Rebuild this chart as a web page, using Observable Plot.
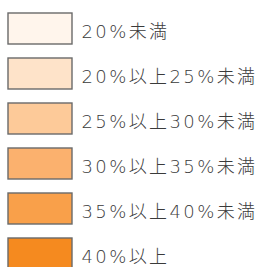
<!DOCTYPE html>
<html><head><meta charset="utf-8">
<script src="https://cdn.jsdelivr.net/npm/d3@7"></script>
<script src="https://cdn.jsdelivr.net/npm/@observablehq/plot@0.6"></script>
<style>body{margin:0;background:#fff}</style>
</head><body><div id="chart"></div>
<script>
const labels = ["20%未満","20%以上25%未満","25%以上30%未満","30%以上35%未満","35%以上40%未満","40%以上"];
const colors = ["#fff5ec","#fee3c9","#fdca99","#fbb16e","#f9a04a","#f58a1f"];
const data = labels.map((label,i)=>({label, color: colors[i], key:"swatch"}));
const chart = Plot.plot({
  width: 263, height: 267,
  margin: 0,
  style: {background: "#fff"},
  x: {type: "band", domain: ["swatch"], range: [8, 72.5], padding: 0, axis: null},
  y: {type: "band", domain: labels, range: [12, 270], paddingInner: 0.317, paddingOuter: 0, axis: null},
  marks: [
    Plot.cell(data, {x: "key", y: "label", fill: "color", stroke: "#6a6a6a", strokeWidth: 1.4}),
    Plot.text(data, {x: "key", y: "label", text: "label", textAnchor: "start", dx: 41, dy: 3,
      fill: "#3a3a3a", fontSize: 18, fontWeight: 200, fontFamily: "'DejaVu Sans', 'Noto Sans CJK JP'"})
  ]
});
chart.querySelectorAll("text").forEach(t => t.setAttribute("letter-spacing", "2.4"));
document.getElementById("chart").append(chart);
</script></body></html>
